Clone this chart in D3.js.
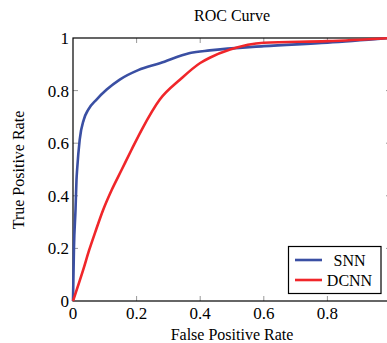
<!DOCTYPE html>
<html>
<head>
<meta charset="utf-8">
<script src="https://cdn.jsdelivr.net/npm/d3@7"></script>
<style>
  body { margin: 0; background: #fff; }
  svg { display: block; font-family: "Liberation Serif", "DejaVu Serif", serif; }
</style>
</head>
<body>
<script>
// ROC points
const snnFpr = [0, 0.003, 0.008, 0.011, 0.013, 0.021, 0.034, 0.048, 0.074, 0.106, 0.147, 0.205, 0.273, 0.368, 0.43, 0.6, 0.8, 1];
const snnTpr = [0, 0.2, 0.35, 0.461, 0.5, 0.613, 0.69, 0.728, 0.766, 0.804, 0.842, 0.878, 0.904, 0.943, 0.953, 0.969, 0.982, 1];
const dcnnFpr = [0, 0.032, 0.051, 0.07, 0.095, 0.122, 0.153, 0.184, 0.216, 0.273, 0.337, 0.4, 0.43, 0.494, 0.6, 0.8, 1];
const dcnnTpr = [0, 0.118, 0.194, 0.262, 0.347, 0.423, 0.499, 0.575, 0.651, 0.766, 0.842, 0.905, 0.925, 0.956, 0.982, 0.988, 1];
const xTicks = [0, 0.2, 0.4, 0.6, 0.8, 1];
const yTicks = [0, 0.2, 0.4, 0.6, 0.8, 1];

const width = 387, height = 343;
const pLeft = 73, pRight = 391, pTop = 38, pBottom = 301;

const x = d3.scaleLinear().domain([0, 1]).range([pLeft, pRight]);
const y = d3.scaleLinear().domain([0, 1]).range([pBottom, pTop]);

const svg = d3.select("body").append("svg")
  .attr("width", width).attr("height", height);

// inward ticks on all four sides
const tickColor = "#999";
svg.append("g").selectAll("line").data(xTicks.slice(1, -1)).join("line")
  .attr("x1", d => x(d)).attr("x2", d => x(d))
  .attr("y1", pBottom).attr("y2", pBottom - 5).attr("stroke", tickColor);
svg.append("g").selectAll("line").data(xTicks.slice(1, -1)).join("line")
  .attr("x1", d => x(d)).attr("x2", d => x(d))
  .attr("y1", pTop).attr("y2", pTop + 5).attr("stroke", tickColor);
svg.append("g").selectAll("line").data(yTicks.slice(1, -1)).join("line")
  .attr("x1", pLeft).attr("x2", pLeft + 5)
  .attr("y1", d => y(d)).attr("y2", d => y(d)).attr("stroke", tickColor);
svg.append("g").selectAll("line").data(yTicks.slice(1, -1)).join("line")
  .attr("x1", pRight).attr("x2", pRight - 5)
  .attr("y1", d => y(d)).attr("y2", d => y(d)).attr("stroke", tickColor);

// frame
svg.append("rect")
  .attr("x", pLeft).attr("y", pTop)
  .attr("width", pRight - pLeft).attr("height", pBottom - pTop)
  .attr("fill", "none").attr("stroke", "#000").attr("stroke-width", 1.2);

// tick labels (the x label at 1 falls outside the picture)
svg.append("g").selectAll("text").data(xTicks.filter(d => x(d) < width - 8)).join("text")
  .attr("x", d => x(d)).attr("y", 319)
  .attr("text-anchor", "middle").attr("font-size", 17)
  .text(d => d3.format("~g")(d));
svg.append("g").selectAll("text").data(yTicks).join("text")
  .attr("x", pLeft - 4).attr("y", d => y(d) + 6)
  .attr("text-anchor", "end").attr("font-size", 17)
  .text(d => d3.format("~g")(d));

// curves
const line = d3.line().x(d => x(d[0])).y(d => y(d[1])).curve(d3.curveMonotoneX);
const series = [
  { name: "SNN", color: "#3a4fa3", pts: d3.zip(snnFpr, snnTpr) },
  { name: "DCNN", color: "#f0262a", pts: d3.zip(dcnnFpr, dcnnTpr) }
];
svg.append("g").selectAll("path").data(series).join("path")
  .attr("d", d => line(d.pts))
  .attr("fill", "none").attr("stroke", d => d.color)
  .attr("stroke-width", 2.6).attr("stroke-linejoin", "round");

// legend
const lg = svg.append("g");
lg.append("rect").attr("x", 288.5).attr("y", 246.5).attr("width", 92.5).attr("height", 47)
  .attr("fill", "#fff").attr("stroke", "#000").attr("stroke-width", 1.2);
series.forEach((s, i) => {
  const ly = 260 + i * 20;
  lg.append("line").attr("x1", 295).attr("x2", 322).attr("y1", ly).attr("y2", ly)
    .attr("stroke", s.color).attr("stroke-width", 2.6);
  lg.append("text").attr("x", 349.5).attr("y", ly + 5.5).attr("text-anchor", "middle")
    .attr("font-size", 16).text(s.name);
});

// titles
svg.append("text").attr("x", 232).attr("y", 21).attr("text-anchor", "middle")
  .attr("font-size", 16).text("ROC Curve");
svg.append("text").attr("x", 232).attr("y", 340).attr("text-anchor", "middle")
  .attr("font-size", 16).text("False Positive Rate");
svg.append("text").attr("transform", "translate(24,170) rotate(-90)")
  .attr("text-anchor", "middle").attr("font-size", 16).text("True Positive Rate");
</script>
</body>
</html>
